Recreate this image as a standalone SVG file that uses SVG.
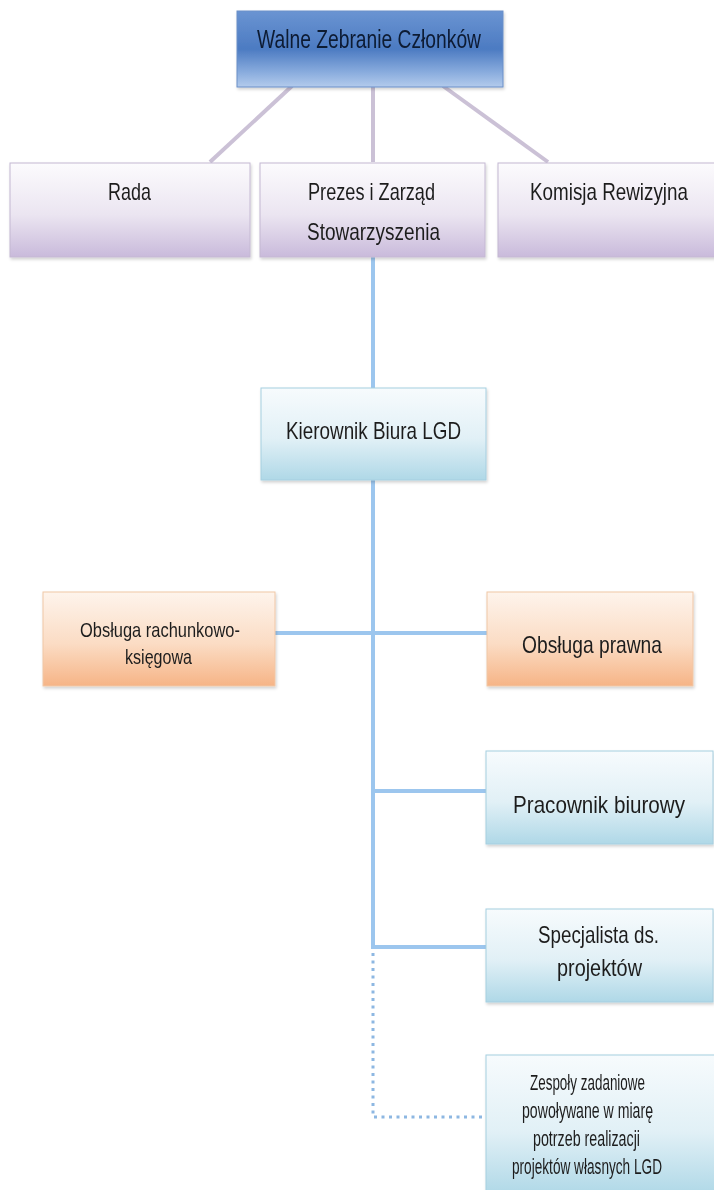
<svg xmlns="http://www.w3.org/2000/svg" width="714" height="1190" viewBox="0 0 714 1190">
<defs>
<linearGradient id="gTop" x1="0" y1="0" x2="0" y2="1">
<stop offset="0" stop-color="#6a94d2"/>
<stop offset="0.5" stop-color="#4c7bc2"/>
<stop offset="0.8" stop-color="#88abdd"/>
<stop offset="1" stop-color="#b3cbec"/>
</linearGradient>
<linearGradient id="gPur" x1="0" y1="0" x2="0" y2="1">
<stop offset="0" stop-color="#fcfbfd"/>
<stop offset="0.55" stop-color="#ebe5f1"/>
<stop offset="1" stop-color="#c9badb"/>
</linearGradient>
<linearGradient id="gBlue" x1="0" y1="0" x2="0" y2="1">
<stop offset="0" stop-color="#f7fbfd"/>
<stop offset="0.55" stop-color="#e1f0f6"/>
<stop offset="1" stop-color="#afd8e7"/>
</linearGradient>
<linearGradient id="gOr" x1="0" y1="0" x2="0" y2="1">
<stop offset="0" stop-color="#fef4ec"/>
<stop offset="0.55" stop-color="#fbdcc4"/>
<stop offset="1" stop-color="#f6b486"/>
</linearGradient>
<filter id="sh" x="-5%" y="-5%" width="110%" height="115%">
<feDropShadow dx="1" dy="2" stdDeviation="1.5" flood-color="#000" flood-opacity="0.18"/>
</filter>
</defs>
<style>
text{font-family:"Liberation Sans",Arial,sans-serif;fill:#1e1e1e;text-anchor:middle;font-size:24px}
.top rect{fill:url(#gTop);stroke:#6b8fc8;stroke-width:1}
.top text{fill:#0d1a33;font-size:26px}
.pur rect{fill:url(#gPur);stroke:#c4b8d2;stroke-width:1}
.blu rect{fill:url(#gBlue);stroke:#a6cfe0;stroke-width:1}
.org rect{fill:url(#gOr);stroke:#f0c7a6;stroke-width:1}
.sm{font-size:21px}
.zs{font-size:22px}
.lp{stroke:#cbc1d6;stroke-width:4;fill:none}
.lb{stroke:#9cc6ee;stroke-width:4;fill:none}
.ld{stroke:#8db7e2;stroke-width:3;fill:none;stroke-dasharray:3 4.5}
</style>
<rect width="714" height="1190" fill="#ffffff"/>
<g id="connectors">
<line class="lp" x1="292" y1="86" x2="210" y2="162"/>
<line class="lp" x1="373" y1="86" x2="373" y2="162"/>
<line class="lp" x1="443" y1="86" x2="548" y2="162"/>
<line class="lb" x1="373" y1="257" x2="373" y2="388"/>
<line class="lb" x1="373" y1="480" x2="373" y2="949"/>
<line class="lb" x1="274" y1="633" x2="487" y2="633"/>
<line class="lb" x1="373" y1="791" x2="487" y2="791"/>
<line class="lb" x1="373" y1="947" x2="487" y2="947"/>
<polyline class="ld" points="373,953 373,1117 482,1117"/>
</g>
<g id="walne" class="top" filter="url(#sh)">
<rect x="237" y="11" width="266" height="76"/>
<text x="369" y="48" textLength="224" lengthAdjust="spacingAndGlyphs">Walne Zebranie Członków</text>
</g>
<g id="rada" class="pur" filter="url(#sh)">
<rect x="10" y="163" width="240" height="94"/>
<text x="129.5" y="200" textLength="43" lengthAdjust="spacingAndGlyphs">Rada</text>
</g>
<g id="prezes" class="pur" filter="url(#sh)">
<rect x="260" y="163" width="225" height="94"/>
<text x="371.5" y="200" textLength="127" lengthAdjust="spacingAndGlyphs">Prezes i Zarząd</text>
<text x="373.5" y="240" textLength="133" lengthAdjust="spacingAndGlyphs">Stowarzyszenia</text>
</g>
<g id="komisja" class="pur" filter="url(#sh)">
<rect x="498" y="163" width="220" height="94"/>
<text x="609" y="200" textLength="158" lengthAdjust="spacingAndGlyphs">Komisja Rewizyjna</text>
</g>
<g id="kierownik" class="blu" filter="url(#sh)">
<rect x="261" y="388" width="225" height="92"/>
<text x="373.5" y="439" textLength="175" lengthAdjust="spacingAndGlyphs">Kierownik Biura LGD</text>
</g>
<g id="rachunkowa" class="org" filter="url(#sh)">
<rect x="43" y="592" width="232" height="94"/>
<text class="sm" x="160" y="637" textLength="160" lengthAdjust="spacingAndGlyphs">Obsługa rachunkowo-</text>
<text class="sm" x="158.5" y="664" textLength="67" lengthAdjust="spacingAndGlyphs">księgowa</text>
</g>
<g id="prawna" class="org" filter="url(#sh)">
<rect x="487" y="592" width="206" height="94"/>
<text x="592" y="653" textLength="140" lengthAdjust="spacingAndGlyphs">Obsługa prawna</text>
</g>
<g id="pracownik" class="blu" filter="url(#sh)">
<rect x="486" y="751" width="227" height="93"/>
<text x="599" y="813" textLength="172" lengthAdjust="spacingAndGlyphs">Pracownik  biurowy</text>
</g>
<g id="specjalista" class="blu" filter="url(#sh)">
<rect x="486" y="909" width="227" height="93"/>
<text x="598.5" y="943" textLength="121" lengthAdjust="spacingAndGlyphs">Specjalista ds.</text>
<text x="599.5" y="976" textLength="85" lengthAdjust="spacingAndGlyphs">projektów</text>
</g>
<g id="zespoly" class="blu" filter="url(#sh)">
<rect x="486" y="1055" width="230" height="140"/>
<text class="zs" x="587.5" y="1090" textLength="115" lengthAdjust="spacingAndGlyphs">Zespoły zadaniowe</text>
<text class="zs" x="587.5" y="1118" textLength="131" lengthAdjust="spacingAndGlyphs">powoływane w miarę</text>
<text class="zs" x="586.5" y="1146" textLength="107" lengthAdjust="spacingAndGlyphs">potrzeb realizacji</text>
<text class="zs" x="587" y="1174" textLength="150" lengthAdjust="spacingAndGlyphs">projektów własnych LGD</text>
</g>
</svg>
